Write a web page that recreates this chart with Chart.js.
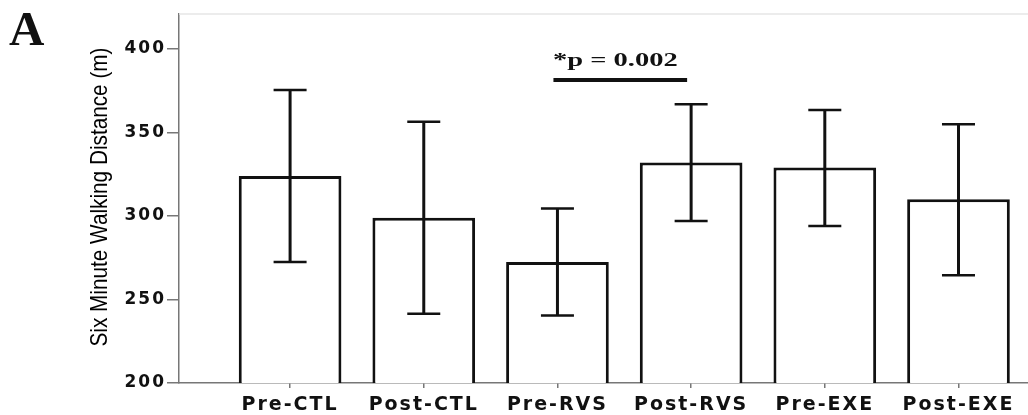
<!DOCTYPE html>
<html>
<head>
<meta charset="utf-8">
<script src="https://cdn.jsdelivr.net/npm/chart.js@4"></script>
<style>
  html, body { margin: 0; padding: 0; background: #fff; }
  #wrap { width: 1028px; height: 415px; position: relative; }
</style>
</head>
<body>
<div id="wrap"><canvas id="walkChart"></canvas></div>
<script>
// data
const groups = ['Pre-CTL', 'Post-CTL', 'Pre-RVS', 'Post-RVS', 'Pre-EXE', 'Post-EXE'];
const means = [324, 299, 272.5, 332, 329, 310];
const errHigh = [375.5, 356.5, 304.5, 367, 363.5, 355];
const errLow = [272.5, 241.5, 240.5, 297, 294, 264.5];
const yTicks = [200, 250, 300, 350, 400];
const sigLabel = '*p = 0.002';
const sigPair = [1.97, 2.97];   // spans Pre-RVS -> Post-RVS
const sigLevel = 381.5;

// spacing trick for the wide-looking tick fonts
const spacingPlugin = {
    id: 'spacing',
    beforeDraw(chart) {
        chart.ctx.letterSpacing = '2px';
    },
    beforeDatasetsDraw(chart) {
        chart.ctx.letterSpacing = '0px';
    }
};

// error bars, top frame line, significance bar and the panel letters
const extrasPlugin = {
    id: 'extras',
    afterDatasetsDraw(chart) {
        const ctx = chart.ctx;
        const x = chart.scales.x, y = chart.scales.y;
        const area = chart.chartArea;
        ctx.save();
        ctx.letterSpacing = '0px';

        // light frame on top
        ctx.strokeStyle = '#e6e6e6';
        ctx.lineWidth = 1.5;
        ctx.beginPath();
        ctx.moveTo(area.left, area.top);
        ctx.lineTo(area.right, area.top);
        ctx.stroke();

        ctx.strokeStyle = '#111';
        for (let i = 0; i < groups.length; i++) {
            const cx = x.getPixelForValue(i);
            const top = y.getPixelForValue(errHigh[i]);
            const bot = y.getPixelForValue(errLow[i]);
            ctx.lineWidth = 3;
            ctx.beginPath();
            ctx.moveTo(cx, top);
            ctx.lineTo(cx, bot);
            ctx.stroke();
            ctx.lineWidth = 2.5;
            ctx.beginPath();
            ctx.moveTo(cx - 16.5, top);
            ctx.lineTo(cx + 16.5, top);
            ctx.moveTo(cx - 16.5, bot);
            ctx.lineTo(cx + 16.5, bot);
            ctx.stroke();
        }

        // significance line + label
        const sx1 = x.getPixelForValue(sigPair[0]);
        const sx2 = x.getPixelForValue(sigPair[1]);
        const sy = y.getPixelForValue(sigLevel);
        ctx.lineWidth = 4;
        ctx.beginPath();
        ctx.moveTo(sx1, sy);
        ctx.lineTo(sx2, sy);
        ctx.stroke();

        ctx.fillStyle = '#111';
        ctx.font = 'bold 19px "Liberation Serif", serif';
        ctx.textAlign = 'center';
        ctx.textBaseline = 'alphabetic';
        ctx.save();
        ctx.translate((sx1 + sx2) / 2 - 5, sy - 14);
        ctx.scale(1.5, 1);
        ctx.fillText(sigLabel, 0, 0);
        ctx.restore();

        // y axis title
        ctx.save();
        ctx.font = '24px "Liberation Sans Narrow", "Liberation Sans", sans-serif';
        ctx.fillStyle = '#000';
        ctx.translate(100, 197);
        ctx.rotate(-Math.PI / 2);
        ctx.textBaseline = 'middle';
        ctx.fillText('Six Minute Walking Distance (m)', 0, 0, 299);
        ctx.restore();

        // panel letter
        ctx.font = 'bold 49px "Liberation Serif", serif';
        ctx.textAlign = 'left';
        ctx.fillStyle = '#111';
        ctx.fillText('A', 9, 45);

        ctx.restore();
    }
};

const ctx = document.getElementById('walkChart').getContext('2d');
const walkChart = new Chart(ctx, {
    type: 'bar',
    data: {
        datasets: [{
            label: 'Six Minute Walking Distance',
            data: means.map((v, i) => ({ x: i, y: v })),
            backgroundColor: '#ffffff',
            borderColor: '#111111',
            borderWidth: 3,
            borderSkipped: false,
            barPercentage: 0.96,
            categoryPercentage: 0.8
        }]
    },
    options: {
        responsive: true,
        maintainAspectRatio: false,
        animation: false,
        layout: {
            padding: { top: 14, right: 0, left: 0, bottom: 0 }
        },
        plugins: {
            legend: { display: false },
            tooltip: { enabled: false }
        },
        scales: {
            x: {
                type: 'linear',
                offset: false,
                min: -0.831,
                max: 5.52,
                afterFit(scale) { scale.height = 32; },
                afterBuildTicks(scale) {
                    scale.ticks = groups.map((g, i) => ({ value: i }));
                },
                ticks: {
                    stepSize: 1,
                    includeBounds: false,
                    autoSkip: false,
                    maxRotation: 0,
                    padding: 6,
                    color: '#111',
                    font: { family: '"DejaVu Sans", sans-serif', size: 19, weight: 'bold' },
                    callback: (v) => groups[v] !== undefined ? groups[v] : ''
                },
                grid: {
                    offset: false,
                    drawOnChartArea: false,
                    tickLength: 5,
                    color: '#777',
                    lineWidth: 1.5
                },
                border: { color: '#777', width: 1.5 }
            },
            y: {
                min: 200,
                max: 421,
                afterFit(scale) { scale.width = 179; },
                afterBuildTicks(scale) {
                    scale.ticks = yTicks.map(v => ({ value: v }));
                },
                ticks: {
                    includeBounds: false,
                    padding: 1,
                    color: '#111',
                    font: { family: '"DejaVu Sans", sans-serif', size: 17, weight: 'bold' }
                },
                grid: {
                    drawOnChartArea: false,
                    tickLength: 12,
                    color: '#777',
                    lineWidth: 1.5
                },
                border: { color: '#777', width: 1.5 }
            }
        }
    },
    plugins: [spacingPlugin, extrasPlugin]
});
</script>
</body>
</html>
